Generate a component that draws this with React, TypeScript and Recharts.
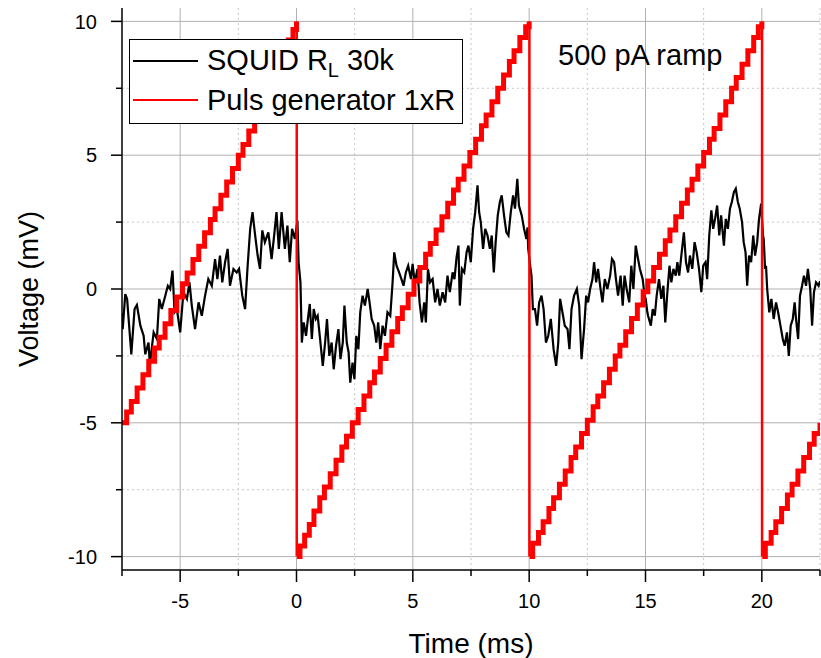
import { LineChart, Line, XAxis, YAxis, ReferenceLine, Legend } from 'recharts';

const FONT = '"Liberation Sans", Arial, sans-serif';

// SQUID output, [time ms, voltage mV]
const squid: [number, number][] = [
  [-7.5, -0.9], [-7.47, -1.5], [-7.36, -0.19], [-7.28, -0.37], [-7.1, -2.44], [-6.96, -0.75], [-6.86, -0.6],
  [-6.71, -1.37], [-6.57, -1.75], [-6.5, -2.44], [-6.36, -2.0], [-6.3, -2.9], [-6.26, -2.5], [-6.14, -1.62],
  [-6.0, -1.87], [-5.9, -0.37], [-5.79, -0.75], [-5.64, -0.25], [-5.53, 0.12], [-5.43, 0.0], [-5.33, 0.69],
  [-5.24, -0.87], [-5.14, -0.75], [-5.0, -1.62], [-4.86, -0.12], [-4.71, -0.37], [-4.6, 0.25], [-4.5, -0.62],
  [-4.36, -1.5], [-4.21, -0.5], [-4.07, -1.0], [-3.93, -0.25], [-3.79, 0.37], [-3.64, 0.12], [-3.5, 1.12],
  [-3.4, 0.37], [-3.29, 1.25], [-3.19, 0.25], [-3.07, 1.0], [-2.96, 1.5], [-2.86, 0.12], [-2.71, 0.75],
  [-2.57, 0.62], [-2.47, 0.75], [-2.33, -0.25], [-2.21, -0.75], [-2.1, 0.87], [-1.99, 2.25], [-1.89, 2.87],
  [-1.79, 2.1], [-1.67, 1.25], [-1.57, 0.75], [-1.47, 2.19], [-1.36, 1.75], [-1.21, 2.12], [-1.07, 1.12],
  [-0.96, 2.0], [-0.86, 2.87], [-0.76, 1.5], [-0.64, 2.87], [-0.5, 1.5], [-0.39, 2.37], [-0.29, 1.0],
  [-0.19, 2.25], [-0.07, 1.87], [0.04, 2.56],
  [0.09, 1.0], [0.17, 0.25], [0.23, -2.0], [0.31, -1.25], [0.41, -1.75], [0.49, -1.12], [0.57, -0.56],
  [0.66, -1.87], [0.74, -0.75], [0.83, -1.12], [0.91, -1.0], [1.0, -1.75], [1.13, -2.87], [1.23, -2.0],
  [1.31, -1.12], [1.41, -2.5], [1.51, -2.0], [1.6, -3.0], [1.7, -2.12], [1.8, -1.5], [1.89, -2.62],
  [1.99, -2.0], [2.06, -0.62], [2.16, -2.0], [2.24, -2.37], [2.31, -3.5], [2.41, -2.75], [2.49, -3.37],
  [2.57, -1.75], [2.66, -2.25], [2.74, -0.87], [2.84, -0.25], [2.94, -0.62], [3.06, 0.0], [3.14, -0.5],
  [3.23, -1.12], [3.34, -1.37], [3.43, -2.0], [3.51, -1.25], [3.6, -2.25], [3.7, -1.37], [3.8, -1.75],
  [3.91, -0.87], [4.03, -1.0], [4.13, 0.25], [4.2, 1.37], [4.3, 0.87], [4.41, 0.62], [4.51, 0.37],
  [4.6, 0.12], [4.7, 0.62], [4.8, 0.87], [4.92, 0.37], [4.99, 0.94], [5.08, 0.25], [5.2, 0.75],
  [5.29, -0.5], [5.39, -1.25], [5.49, -0.5], [5.56, -1.25], [5.65, 0.75], [5.74, 0.25], [5.85, 0.37],
  [5.96, -0.5], [6.06, 0.0], [6.16, -0.62], [6.28, -0.12], [6.39, -0.5], [6.49, 0.5], [6.59, -0.12],
  [6.71, 0.62], [6.79, 0.37], [6.88, 1.19], [6.96, 1.62], [7.02, -0.62], [7.11, 0.75], [7.21, 0.62],
  [7.31, 1.37], [7.39, 1.62], [7.49, 1.0], [7.59, 2.25], [7.68, 2.87], [7.78, 3.87], [7.85, 2.87],
  [7.92, 2.5], [8.02, 1.5], [8.11, 2.25], [8.21, 2.0], [8.31, 1.5], [8.39, 2.0], [8.48, 0.62],
  [8.56, 1.75], [8.65, 2.75], [8.74, 3.25], [8.82, 3.5], [8.92, 2.75], [9.02, 2.12], [9.11, 2.0],
  [9.21, 2.87], [9.31, 3.5], [9.39, 3.0], [9.49, 4.12], [9.56, 3.12], [9.68, 2.75], [9.78, 2.25],
  [9.88, 1.87], [9.93, 2.3], [9.96, 1.5], [10.06, 0.75], [10.1, 0.5], [10.16, -0.75],
  [10.25, -0.75], [10.34, -1.37], [10.43, -0.5], [10.53, -0.25], [10.62, -0.75], [10.72, -2.0],
  [10.82, -1.75], [10.93, -1.12], [11.05, -2.25], [11.16, -2.87], [11.25, -2.0], [11.33, -0.37],
  [11.43, -0.87], [11.53, -1.37], [11.65, -1.5], [11.73, -2.25], [11.82, -0.75], [11.93, -0.25],
  [12.05, 0.0], [12.15, -0.62], [12.25, -2.62], [12.36, -1.5], [12.45, -0.25], [12.53, -0.5],
  [12.62, 0.0], [12.72, 0.37], [12.79, 1.0], [12.88, 0.25], [12.96, 0.75], [13.05, 0.12], [13.15, -0.5],
  [13.25, 0.37], [13.36, 0.0], [13.48, 0.5], [13.56, 1.12], [13.65, 1.0], [13.73, 0.37], [13.82, -0.25],
  [13.93, 0.5], [14.02, -0.62], [14.1, 0.5], [14.19, 0.0], [14.3, -0.5], [14.39, 0.87], [14.48, 0.0],
  [14.58, 1.62], [14.68, 1.12], [14.76, 0.75], [14.88, 0.37], [14.96, -0.25], [15.01, -0.37],
  [15.08, -0.87], [15.11, -1.0], [15.23, -1.37], [15.31, -0.75], [15.4, -1.0], [15.48, -0.25],
  [15.58, 0.37], [15.68, -0.37], [15.77, 0.12], [15.85, -1.25], [15.94, -0.12], [16.03, 0.87],
  [16.11, 0.25], [16.2, 0.75], [16.3, 0.5], [16.37, 1.0], [16.45, 0.5], [16.54, 1.25], [16.65, 2.12],
  [16.74, 1.0], [16.83, 0.62], [16.91, 1.25], [17.01, 0.75], [17.11, 1.75], [17.2, 1.37], [17.3, 0.75],
  [17.4, -0.12], [17.48, 0.87], [17.58, 1.0], [17.65, 0.37], [17.74, 2.0], [17.83, 2.94], [17.91, 2.25],
  [17.99, 2.62], [18.08, 3.12], [18.17, 2.0], [18.25, 2.75], [18.37, 1.62], [18.45, 2.62], [18.54, 2.25],
  [18.63, 3.0], [18.71, 3.25], [18.8, 3.62], [18.88, 3.75], [18.97, 3.25], [19.05, 3.0], [19.15, 2.5],
  [19.22, 1.75], [19.3, 1.37], [19.37, 0.12], [19.45, 1.25], [19.54, 1.0], [19.63, 2.0], [19.71, 1.25],
  [19.8, 1.75], [19.88, 2.62], [19.97, 3.19], [20.05, 2.0], [20.08, 1.87], [20.14, 0.75], [20.18, 0.87],
  [20.23, 0.0], [20.32, -0.87], [20.41, -0.37], [20.51, -1.12], [20.61, -0.5], [20.7, -0.87],
  [20.8, -1.37], [20.9, -1.87], [20.98, -2.12], [21.08, -1.62], [21.16, -2.5], [21.24, -1.37],
  [21.33, -1.12], [21.41, -0.5], [21.47, -1.12], [21.56, -1.87], [21.64, -0.25], [21.73, 0.12],
  [21.81, 0.5], [21.9, 0.12], [21.98, 0.75], [22.08, 0.0], [22.16, -1.37], [22.24, -0.12],
  [22.33, 0.25], [22.44, 0.12], [22.5, 0.3],
];

// pulse generator staircase ramp, step levels [time ms, voltage mV]
const puls: [number, number][] = [
  [-7.5, -5], [-7.3, -4.6], [-7.1, -4.2], [-6.85, -3.7], [-6.6, -3.2], [-6.35, -2.7], [-6.1, -2.2],
  [-5.9, -1.8], [-5.65, -1.3], [-5.4, -0.8], [-5.15, -0.3], [-4.9, 0.2], [-4.7, 0.6], [-4.45, 1.1],
  [-4.2, 1.6], [-3.95, 2.1], [-3.7, 2.6], [-3.5, 3.0], [-3.25, 3.5], [-3.0, 4.0], [-2.75, 4.5],
  [-2.5, 5.0], [-2.3, 5.4], [-2.05, 5.9], [-1.8, 6.4], [-1.55, 6.9], [-1.3, 7.4], [-1.1, 7.8],
  [-0.85, 8.3], [-0.6, 8.8], [-0.35, 9.3], [-0.15, 9.7], [0.0, 10],
  [0.02, -10], [0.15, -9.6], [0.35, -9.2], [0.55, -8.8], [0.75, -8.3], [1.0, -7.8], [1.2, -7.4],
  [1.45, -6.9], [1.7, -6.4], [1.95, -5.9], [2.15, -5.5], [2.4, -5.0], [2.65, -4.5], [2.9, -4.0],
  [3.15, -3.5], [3.35, -3.1], [3.6, -2.6], [3.85, -2.1], [4.1, -1.6], [4.35, -1.1], [4.55, -0.7],
  [4.8, -0.2], [5.05, 0.3], [5.3, 0.8], [5.55, 1.3], [5.75, 1.7], [6.0, 2.2], [6.25, 2.7], [6.5, 3.2],
  [6.75, 3.7], [6.95, 4.1], [7.2, 4.6], [7.45, 5.1], [7.7, 5.6], [7.95, 6.1], [8.15, 6.5], [8.4, 7.0],
  [8.65, 7.5], [8.9, 8.0], [9.15, 8.5], [9.35, 8.9], [9.6, 9.4], [9.85, 9.8], [10.0, 10],
  [10.02, -10], [10.15, -9.5], [10.4, -9.1], [10.6, -8.7], [10.85, -8.2], [11.05, -7.8], [11.3, -7.3],
  [11.55, -6.8], [11.8, -6.3], [12.0, -5.9], [12.25, -5.4], [12.5, -4.9], [12.75, -4.4], [12.95, -4.0],
  [13.2, -3.5], [13.45, -3.0], [13.7, -2.5], [13.9, -2.1], [14.15, -1.6], [14.4, -1.1], [14.65, -0.6],
  [14.9, -0.1], [15.1, 0.3], [15.35, 0.8], [15.6, 1.3], [15.85, 1.8], [16.05, 2.2], [16.3, 2.7],
  [16.55, 3.2], [16.8, 3.7], [17.0, 4.1], [17.25, 4.6], [17.5, 5.1], [17.75, 5.6], [17.95, 6.0],
  [18.2, 6.5], [18.45, 7.0], [18.7, 7.5], [18.9, 7.9], [19.15, 8.4], [19.4, 8.9], [19.65, 9.4],
  [19.85, 9.8], [20.0, 10],
  [20.02, -10], [20.15, -9.5], [20.4, -9.1], [20.6, -8.7], [20.85, -8.2], [21.1, -7.7], [21.3, -7.3],
  [21.55, -6.8], [21.8, -6.3], [22.05, -5.8], [22.25, -5.4], [22.5, -5.0],
];

// times at which the ramp resets from top to bottom
const resets = [0.01, 10.01, 20.01];
const rampTop = 10;
const rampBottom = -10;

const xMajor = [-5, 0, 5, 10, 15, 20];
const xMinor = [-7.5, -2.5, 2.5, 7.5, 12.5, 17.5, 22.5];
const yMajor = [-10, -5, 0, 5, 10];
const yMinor = [-7.5, -2.5, 2.5, 7.5];

const XTick = ({ x, y, payload }: any) => {
  const major = xMajor.includes(payload.value);
  return (
    <g>
      <line x1={x} x2={x} y1={y} y2={y + (major ? 12 : 6)} stroke="#000" strokeWidth={1.5} />
      {major && (
        <text x={x} y={y + 38} textAnchor="middle" fontSize={20} fontFamily={FONT} fill="#000">
          {payload.value}
        </text>
      )}
    </g>
  );
};

const YTick = ({ x, y, payload }: any) => {
  const major = yMajor.includes(payload.value);
  return (
    <g>
      <line x1={x - (major ? 11 : 6)} x2={x} y1={y} y2={y} stroke="#000" strokeWidth={1.5} />
      {major && (
        <text x={x - 25} y={y} dy="0.36em" textAnchor="end" fontSize={20} fontFamily={FONT} fill="#000">
          {payload.value}
        </text>
      )}
    </g>
  );
};

const LegendBox = () => (
  <svg width={334} height={85}>
    <rect x={0.5} y={0.5} width={333} height={84} fill="#fff" stroke="#000" strokeWidth={1} />
    <line x1={4} x2={69} y1={22} y2={22} stroke="#000" strokeWidth={2} />
    <text x={78} y={31} fontSize={29} fontFamily={FONT} fill="#000">
      SQUID R<tspan fontSize={20} dy={7}>L</tspan>
      <tspan dy={-7}> 30k</tspan>
    </text>
    <line x1={4} x2={69} y1={61} y2={61} stroke="#ff0000" strokeWidth={2} />
    <text x={78} y={71} fontSize={29} fontFamily={FONT} fill="#000">Puls generator 1xR</text>
  </svg>
);

export default function App() {
  const squidData = squid.map(([t, v]) => ({ t, v }));
  // break the staircase at each reset so the thin drop can be drawn on its own
  const pulsData: { t: number; v: number | null }[] = [];
  puls.forEach(([t, v], i) => {
    const r = resets.find((r) => i > 0 && puls[i - 1][0] < r && t > r);
    if (r !== undefined) pulsData.push({ t: r, v: null });
    pulsData.push({ t, v });
  });

  return (
    <div style={{ position: 'absolute', left: 0, top: 0, width: 821, height: 658, background: '#fff' }}>
      <LineChart width={821} height={658} margin={{ top: 8, right: 1, bottom: 0, left: 0 }}>
        {yMinor.map((v) => (
          <ReferenceLine key={'yn' + v} y={v} stroke="#c8c8c8" strokeDasharray="2 3" />
        ))}
        {xMinor.filter((v) => v > -7.5).map((v) => (
          <ReferenceLine key={'xn' + v} x={v} stroke="#c8c8c8" strokeDasharray="2 3" />
        ))}
        {yMajor.map((v) => (
          <ReferenceLine key={'ym' + v} y={v} stroke="#b0b0b0" />
        ))}
        {xMajor.map((v) => (
          <ReferenceLine key={'xm' + v} x={v} stroke="#b0b0b0" />
        ))}
        <XAxis
          type="number"
          dataKey="t"
          domain={[-7.5, 22.5]}
          allowDataOverflow
          ticks={[...xMinor, ...xMajor].sort((a, b) => a - b)}
          interval={0}
          tick={(p: any) => <XTick {...p} />}
          tickLine={false}
          tickSize={0}
          tickMargin={0}
          axisLine={{ stroke: '#000', strokeWidth: 1.5 }}
          height={88}
        />
        <YAxis
          type="number"
          domain={[-10.5, 10.5]}
          allowDataOverflow
          ticks={[...yMinor, ...yMajor].sort((a, b) => a - b)}
          interval={0}
          tick={(p: any) => <YTick {...p} />}
          tickLine={false}
          tickSize={0}
          tickMargin={0}
          axisLine={{ stroke: '#000', strokeWidth: 1.5 }}
          width={122}
        />
        <Line data={squidData} dataKey="v" stroke="#000" strokeWidth={2.2} dot={false} isAnimationActive={false} />
        <Line
          data={pulsData}
          dataKey="v"
          type="stepAfter"
          stroke="#ff0000"
          strokeWidth={5}
          dot={false}
          connectNulls={false}
          isAnimationActive={false}
        />
        {resets.map((r) => (
          <Line
            key={'drop' + r}
            data={[{ t: r, v: rampTop }, { t: r, v: rampBottom }]}
            dataKey="v"
            stroke="#ff0000"
            strokeWidth={2.5}
            dot={false}
            isAnimationActive={false}
          />
        ))}
        <Legend
          layout="vertical"
          align="center"
          verticalAlign="middle"
          content={() => <LegendBox />}
          wrapperStyle={{ position: 'absolute', left: 129, top: 39, width: 334, height: 85 }}
        />
      </LineChart>
      <svg width={821} height={658} style={{ position: 'absolute', left: 0, top: 0, pointerEvents: 'none' }}>
        <text x={558} y={65} fontSize={29} fontFamily={FONT} fill="#000">500 pA ramp</text>
        <text x={471} y={653} textAnchor="middle" fontSize={28} fontFamily={FONT} fill="#000">Time (ms)</text>
        <text
          x={38}
          y={289}
          textAnchor="middle"
          fontSize={27}
          fontFamily={FONT}
          fill="#000"
          transform="rotate(-90 38 289)"
        >
          Voltage (mV)
        </text>
      </svg>
    </div>
  );
}
